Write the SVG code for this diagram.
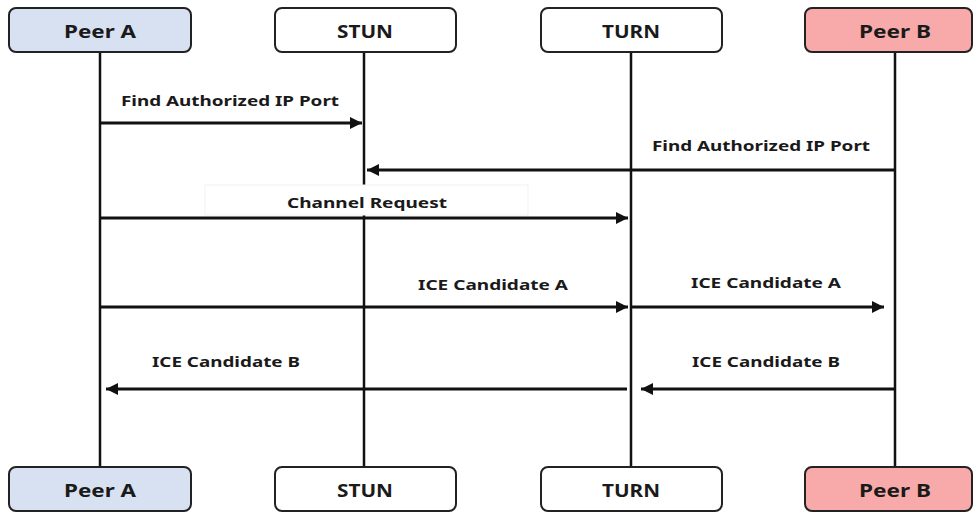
<svg xmlns="http://www.w3.org/2000/svg" width="979" height="513" viewBox="0 0 979 513">
<style>
.box{stroke:#222;stroke-width:2}
.white{fill:#fff}
.pa{fill:#d8e1f1}
.pb{fill:#f8a9a9}
.bt{font-family:"Noto Sans","Liberation Sans",Arial,sans-serif;font-weight:bold;font-size:17px;fill:#1a1a1a;text-anchor:middle;dominant-baseline:central}
.lt{font-family:"Noto Sans","Liberation Sans",Arial,sans-serif;font-weight:bold;font-size:15px;fill:#1a1a1a;text-anchor:middle;dominant-baseline:central}
.life{stroke:#111;stroke-width:2.5;fill:none}
.msg{stroke:#111;stroke-width:3;fill:none}
</style>
<defs>
<marker id="ah" viewBox="0 0 10 10" refX="10" refY="5" markerWidth="4" markerHeight="4" markerUnits="strokeWidth" orient="auto">
<path d="M0,0 L10,5 L0,10 z" fill="#111"/>
</marker>
</defs>
<rect width="979" height="513" fill="#fff"/>
<g id="lifelines">
<line class="life" x1="100" y1="52" x2="100" y2="467"/>
<line class="life" x1="364" y1="52" x2="364" y2="467"/>
<line class="life" x1="631" y1="52" x2="631" y2="467"/>
<line class="life" x1="895" y1="52" x2="895" y2="467"/>
</g>
<g id="peerA-top"><rect class="box pa" x="9" y="8" width="182" height="44" rx="7"/><text class="bt" x="100" y="31" textLength="72" lengthAdjust="spacingAndGlyphs">Peer A</text></g>
<g id="stun-top"><rect class="box white" x="275" y="8" width="181" height="44" rx="7"/><text class="bt" x="365" y="31" textLength="56" lengthAdjust="spacingAndGlyphs">STUN</text></g>
<g id="turn-top"><rect class="box white" x="541" y="8" width="181" height="44" rx="7"/><text class="bt" x="631" y="31" textLength="58" lengthAdjust="spacingAndGlyphs">TURN</text></g>
<g id="peerB-top"><rect class="box pb" x="805" y="8" width="167" height="44" rx="7"/><text class="bt" x="895" y="31" textLength="72" lengthAdjust="spacingAndGlyphs">Peer B</text></g>
<g id="peerA-bottom"><rect class="box pa" x="9" y="467" width="182" height="44" rx="7"/><text class="bt" x="100" y="490" textLength="72" lengthAdjust="spacingAndGlyphs">Peer A</text></g>
<g id="stun-bottom"><rect class="box white" x="275" y="467" width="181" height="44" rx="7"/><text class="bt" x="365" y="490" textLength="56" lengthAdjust="spacingAndGlyphs">STUN</text></g>
<g id="turn-bottom"><rect class="box white" x="541" y="467" width="181" height="44" rx="7"/><text class="bt" x="631" y="490" textLength="58" lengthAdjust="spacingAndGlyphs">TURN</text></g>
<g id="peerB-bottom"><rect class="box pb" x="805" y="467" width="167" height="44" rx="7"/><text class="bt" x="895" y="490" textLength="72" lengthAdjust="spacingAndGlyphs">Peer B</text></g>
<g id="connectors">
<line class="msg" x1="100" y1="123" x2="362" y2="123" marker-end="url(#ah)"/>
<text class="lt" x="230" y="100" textLength="218" lengthAdjust="spacingAndGlyphs">Find Authorized IP Port</text>
<line class="msg" x1="895" y1="170" x2="367" y2="170" marker-end="url(#ah)"/>
<text class="lt" x="761" y="145" textLength="218" lengthAdjust="spacingAndGlyphs">Find Authorized IP Port</text>
<rect x="205" y="185" width="323" height="30" fill="#fff" stroke="#f2f2f2" stroke-width="1"/>
<line class="msg" x1="100" y1="218" x2="628" y2="218" marker-end="url(#ah)"/>
<text class="lt" x="367" y="202" textLength="160" lengthAdjust="spacingAndGlyphs">Channel Request</text>
<line class="msg" x1="100" y1="307" x2="628" y2="307" marker-end="url(#ah)"/>
<text class="lt" x="493" y="284" textLength="150" lengthAdjust="spacingAndGlyphs">ICE Candidate A</text>
<line class="msg" x1="631" y1="307" x2="884" y2="307" marker-end="url(#ah)"/>
<text class="lt" x="766" y="282" textLength="150" lengthAdjust="spacingAndGlyphs">ICE Candidate A</text>
<line class="msg" x1="627" y1="389" x2="106" y2="389" marker-end="url(#ah)"/>
<text class="lt" x="226" y="361" textLength="148" lengthAdjust="spacingAndGlyphs">ICE Candidate B</text>
<line class="msg" x1="895" y1="389" x2="641" y2="389" marker-end="url(#ah)"/>
<text class="lt" x="766" y="361" textLength="148" lengthAdjust="spacingAndGlyphs">ICE Candidate B</text>
</g>
</svg>
